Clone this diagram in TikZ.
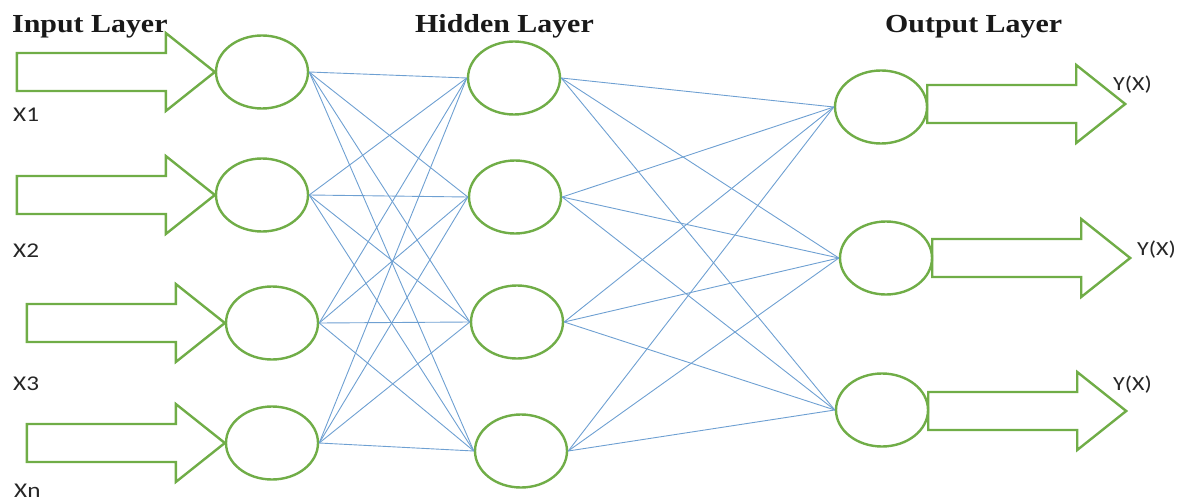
\documentclass[tikz,border=0pt]{standalone}
\usepackage{fontspec}
\usetikzlibrary{shapes.geometric}
\usetikzlibrary{calc}

\newfontfamily\titlefont[FakeStretch=1.15]{Liberation Serif}
\newfontfamily\labelfont[FakeStretch=1.2]{Carlito}

\definecolor{nodegreen}{RGB}{112,173,71}
\definecolor{linkblue}{RGB}{110,160,210}

% fat outline arrow, drawn back from its tip
\newcommand{\fatarrow}[1]{%
    \draw[bigarrow] #1 -- ++(-49,-39) -- ++(0,20) -- ++(-149,0) -- ++(0,38) -- ++(149,0) -- ++(0,20) -- cycle;}

\begin{document}
\begin{tikzpicture}[x=1pt, y=-1pt,
    neuron/.style={ellipse, draw=nodegreen, line width=2.4pt, fill=white, minimum width=92pt, minimum height=73pt, inner sep=0pt},
    bigarrow/.style={draw=nodegreen, line width=2.4pt, line join=miter},
    link/.style={draw=linkblue, line width=0.9pt},
    layer/.style={font=\titlefont\bfseries\fontsize{26}{30}\selectfont, text=black!90, anchor=base west, inner sep=0pt},
    tag/.style={font=\labelfont\fontsize{21}{25}\selectfont, text=black!85, anchor=base west, inner sep=0pt}
]
    \useasboundingbox (0,0) rectangle (1191,500);

    \node[neuron] (in1) at (262,72) {};
    \node[neuron] (in2) at (262,195) {};
    \node[neuron] (in3) at (272,323) {};
    \node[neuron] (in4) at (272,443) {};

    \node[neuron] (hid1) at (514,78) {};
    \node[neuron] (hid2) at (515,197) {};
    \node[neuron] (hid3) at (517,322) {};
    \node[neuron] (hid4) at (521,451) {};

    \node[neuron] (out1) at (881,107) {};
    \node[neuron] (out2) at (886,258) {};
    \node[neuron] (out3) at (882,410) {};

    \foreach \i in {1,...,4}
        \foreach \j in {1,...,4}
            \draw[link] (in\i.east) -- (hid\j.west);
    \foreach \i in {1,...,4}
        \foreach \j in {1,...,3}
            \draw[link] (hid\i.east) -- (out\j.west);

    \fatarrow{(in1.west)}
    \fatarrow{(in2.west)}
    \fatarrow{(in3.west)}
    \fatarrow{(in4.west)}
    \fatarrow{($(out1.east)+(197,-3)$)}
    \fatarrow{($(out2.east)+(197,0)$)}
    \fatarrow{($(out3.east)+(197,1)$)}

    \node[layer] (T1) at (12,33) {Input Layer};
    \node[layer] (T2) at (415,33) {Hidden Layer};
    \node[layer] (T3) at (885,33) {Output Layer};

    \node[tag] (L1) at (13,122) {X1};
    \node[tag] (L2) at (13,257) {X2};
    \node[tag] (L3) at (13,390) {X3};
    \node[tag] (L4) at (14,497) {Xn};

    \node[tag, font=\labelfont\fontsize{20}{24}\selectfont] (R1) at (1113,91) {Y(X)};
    \node[tag, font=\labelfont\fontsize{20}{24}\selectfont] (R2) at (1137,255) {Y(X)};
    \node[tag, font=\labelfont\fontsize{20}{24}\selectfont] (R3) at (1113,390) {Y(X)};
\end{tikzpicture}
\end{document}
